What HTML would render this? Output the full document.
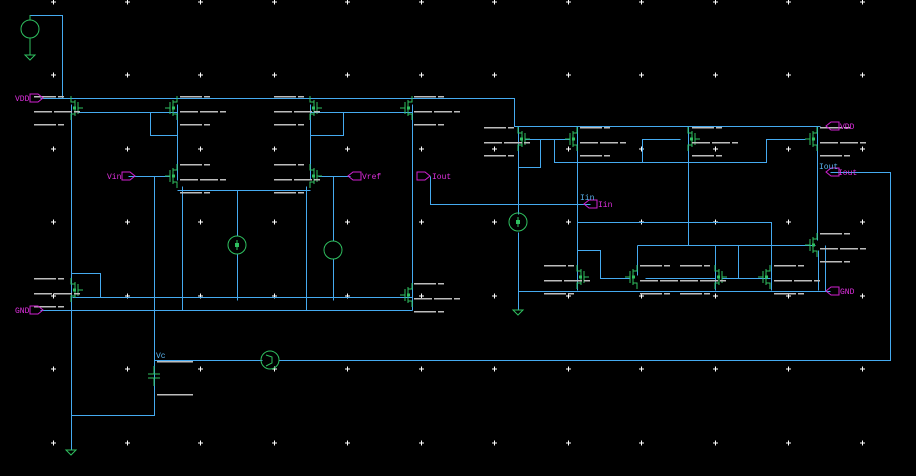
<!DOCTYPE html>
<html><head><meta charset="utf-8"><style>
html,body{margin:0;padding:0;background:#000;width:916px;height:476px;overflow:hidden}
svg{display:block}
text{font-family:"Liberation Mono",monospace;font-size:8px}
</style></head><body>
<svg width="916" height="476" viewBox="0 0 916 476" xmlns="http://www.w3.org/2000/svg">
<defs>
<g id="tr" fill="none" stroke="#2fc060" stroke-width="1">
<path d="M0,-12V-6H4M4,-8V8M4,6H0V12M7,-6V6M7,0H12"/>
<rect x="2" y="-1.5" width="3" height="3" fill="#2fc060" stroke="none"/>
</g>
<g id="lb" fill="#bdbdbd">
<rect x="4" y="-12" width="22" height="1.5"/><rect x="28" y="-12" width="6" height="1.5"/>
<rect x="4" y="3" width="18" height="1.5"/><rect x="24" y="3" width="18" height="1.5"/><rect x="44" y="3" width="6" height="1.5"/>
<rect x="4" y="16" width="22" height="1.5"/><rect x="28" y="16" width="6" height="1.5"/>
</g>
<g id="gd" fill="#fff"><rect x="-2" y="-0.5" width="5" height="1"/><rect x="0" y="-2.5" width="1" height="5"/></g>
</defs>
<g>
<use href="#gd" x="53" y="2"/><use href="#gd" x="127" y="2"/><use href="#gd" x="200" y="2"/><use href="#gd" x="274" y="2"/><use href="#gd" x="347" y="2"/><use href="#gd" x="421" y="2"/><use href="#gd" x="494" y="2"/><use href="#gd" x="568" y="2"/><use href="#gd" x="641" y="2"/><use href="#gd" x="715" y="2"/><use href="#gd" x="788" y="2"/><use href="#gd" x="862" y="2"/>
<use href="#gd" x="53" y="75"/><use href="#gd" x="127" y="75"/><use href="#gd" x="200" y="75"/><use href="#gd" x="274" y="75"/><use href="#gd" x="347" y="75"/><use href="#gd" x="421" y="75"/><use href="#gd" x="494" y="75"/><use href="#gd" x="568" y="75"/><use href="#gd" x="641" y="75"/><use href="#gd" x="715" y="75"/><use href="#gd" x="788" y="75"/><use href="#gd" x="862" y="75"/>
<use href="#gd" x="53" y="149"/><use href="#gd" x="127" y="149"/><use href="#gd" x="200" y="149"/><use href="#gd" x="274" y="149"/><use href="#gd" x="347" y="149"/><use href="#gd" x="421" y="149"/><use href="#gd" x="494" y="149"/><use href="#gd" x="568" y="149"/><use href="#gd" x="641" y="149"/><use href="#gd" x="715" y="149"/><use href="#gd" x="788" y="149"/><use href="#gd" x="862" y="149"/>
<use href="#gd" x="53" y="222"/><use href="#gd" x="127" y="222"/><use href="#gd" x="200" y="222"/><use href="#gd" x="274" y="222"/><use href="#gd" x="347" y="222"/><use href="#gd" x="421" y="222"/><use href="#gd" x="494" y="222"/><use href="#gd" x="568" y="222"/><use href="#gd" x="641" y="222"/><use href="#gd" x="715" y="222"/><use href="#gd" x="788" y="222"/><use href="#gd" x="862" y="222"/>
<use href="#gd" x="53" y="296"/><use href="#gd" x="127" y="296"/><use href="#gd" x="200" y="296"/><use href="#gd" x="274" y="296"/><use href="#gd" x="347" y="296"/><use href="#gd" x="421" y="296"/><use href="#gd" x="494" y="296"/><use href="#gd" x="568" y="296"/><use href="#gd" x="641" y="296"/><use href="#gd" x="715" y="296"/><use href="#gd" x="788" y="296"/><use href="#gd" x="862" y="296"/>
<use href="#gd" x="53" y="369"/><use href="#gd" x="127" y="369"/><use href="#gd" x="200" y="369"/><use href="#gd" x="274" y="369"/><use href="#gd" x="347" y="369"/><use href="#gd" x="421" y="369"/><use href="#gd" x="494" y="369"/><use href="#gd" x="568" y="369"/><use href="#gd" x="641" y="369"/><use href="#gd" x="715" y="369"/><use href="#gd" x="788" y="369"/><use href="#gd" x="862" y="369"/>
<use href="#gd" x="53" y="443"/><use href="#gd" x="127" y="443"/><use href="#gd" x="200" y="443"/><use href="#gd" x="274" y="443"/><use href="#gd" x="347" y="443"/><use href="#gd" x="421" y="443"/><use href="#gd" x="494" y="443"/><use href="#gd" x="568" y="443"/><use href="#gd" x="641" y="443"/><use href="#gd" x="715" y="443"/><use href="#gd" x="788" y="443"/><use href="#gd" x="862" y="443"/>
</g>
<g fill="none" stroke="#45aaf0" stroke-width="1" transform="translate(0.5,0.5)">
<path d="M30,15H62V98"/>
<path d="M40,98H514V126H820"/>
<path d="M78,112H177M150,112V135H177"/>
<path d="M310,112H412M343,112V135H310"/>
<path d="M71,104V450"/>
<path d="M177,104V180M310,104V180"/>
<path d="M177,190H310M237,190V236M237,254V300"/>
<path d="M128,176H170M154,176V415H71"/>
<path d="M318,176H350M333,176V240M333,258V300"/>
<path d="M182,186V310M306,186V310"/>
<path d="M72,297H412M40,310H412"/>
<path d="M71,273H100V297"/>
<path d="M412,104V310"/>
<path d="M430,176V204H590"/>
<path d="M154,360H262M278,360H890V172H830"/>
<path d="M518,126V214M518,232V310"/>
<path d="M525,139H570M540,139V167H518"/>
<path d="M577,126V290"/>
<path d="M554,139V162H766V139H805M642,162V139H680"/>
<path d="M688,126V245"/>
<path d="M817,126V240"/>
<path d="M577,222H771V290"/>
<path d="M637,245H815M637,245V275M715,245V290M738,245V278"/>
<path d="M577,250H600V278H630M645,278H715M722,278H770"/>
<path d="M518,291H830M825,245V291"/>
<path d="M818,250V290"/>
</g>
<use href="#tr" x="71" y="108"/>
<use href="#tr" transform="translate(177,108) scale(-1,1)"/>
<use href="#tr" x="310" y="108"/>
<use href="#tr" transform="translate(412,108) scale(-1,1)"/>
<use href="#tr" transform="translate(177,176) scale(-1,1)"/>
<use href="#tr" x="310" y="176"/>
<use href="#tr" x="71" y="290"/>
<use href="#tr" transform="translate(412,295) scale(-1,1)"/>
<use href="#tr" x="518" y="139"/>
<use href="#tr" transform="translate(577,139) scale(-1,1)"/>
<use href="#tr" x="688" y="139"/>
<use href="#tr" transform="translate(817,139) scale(-1,1)"/>
<use href="#tr" transform="translate(817,245) scale(-1,1)"/>
<use href="#tr" x="577" y="277"/>
<use href="#tr" transform="translate(637,277) scale(-1,1)"/>
<use href="#tr" x="715" y="277"/>
<use href="#tr" transform="translate(770,277) scale(-1,1)"/>
<use href="#lb" x="30" y="108"/>
<use href="#lb" x="176" y="108"/>
<use href="#lb" x="270" y="108"/>
<use href="#lb" x="410" y="108"/>
<use href="#lb" x="176" y="176"/>
<use href="#lb" x="270" y="176"/>
<use href="#lb" x="30" y="290"/>
<use href="#lb" x="410" y="295"/>
<use href="#lb" x="480" y="139"/>
<use href="#lb" x="576" y="139"/>
<use href="#lb" x="688" y="139"/>
<use href="#lb" x="816" y="139"/>
<use href="#lb" x="816" y="245"/>
<use href="#lb" x="540" y="277"/>
<use href="#lb" x="636" y="277"/>
<use href="#lb" x="676" y="277"/>
<use href="#lb" x="770" y="277"/>
<g fill="#bdbdbd"><rect x="157" y="361" width="36" height="1.5"/><rect x="157" y="394" width="36" height="1.5"/></g>
<g fill="none" stroke="#2fc060" stroke-width="1">
<circle cx="30" cy="29" r="9"/><path d="M30,15V20M30,38V55M25,55H35L30,60Z"/>
<circle cx="237" cy="245" r="9"/><path d="M237,240V250"/>
<circle cx="333" cy="250" r="9"/>
<circle cx="518" cy="222" r="9"/><path d="M518,217V227"/>
<circle cx="270" cy="360" r="9"/><path d="M266,355L272,357V363L266,366"/>
<path d="M154,366V374M148,374H160M148,378H160M154,378V386"/>
<path d="M66,450H76L71,455ZM513,310H523L518,315Z"/>
</g>
<g fill="#2fc060"><rect x="235" y="243" width="4" height="4"/><rect x="516" y="220" width="4" height="4"/></g>
<g fill="none" stroke="#d020d0" stroke-width="1">
<path d="M30,94H38L43,98L38,102H30Z"/>
<path d="M30,306H38L43,310L38,314H30Z"/>
<path d="M122,172H130L135,176L130,180H122Z"/>
<path d="M361,172H353L348,176L353,180H361Z"/>
<path d="M417,172H425L430,176L425,180H417Z"/>
<path d="M597,200H589L584,204L589,208H597Z"/>
<path d="M839,122H831L826,126L831,130H839Z"/>
<path d="M839,168H831L826,172L831,176H839Z"/>
<path d="M839,287H831L826,291L831,295H839Z"/>
</g>
<g fill="#e030e0">
<text x="15" y="101">VDD</text>
<text x="15" y="313">GND</text>
<text x="107" y="179">Vin</text>
<text x="362" y="179">Vref</text>
<text x="432" y="179">Iout</text>
<text x="598" y="207">Iin</text>
<text x="840" y="129">VDD</text>
<text x="838" y="175">Iout</text>
<text x="840" y="294">GND</text>
</g>
<g fill="#5ab4f0">
<text x="156" y="358">Vc</text>
<text x="580" y="200">Iin</text>
<text x="819" y="169">Iout</text>
</g>
</svg>
</body></html>
